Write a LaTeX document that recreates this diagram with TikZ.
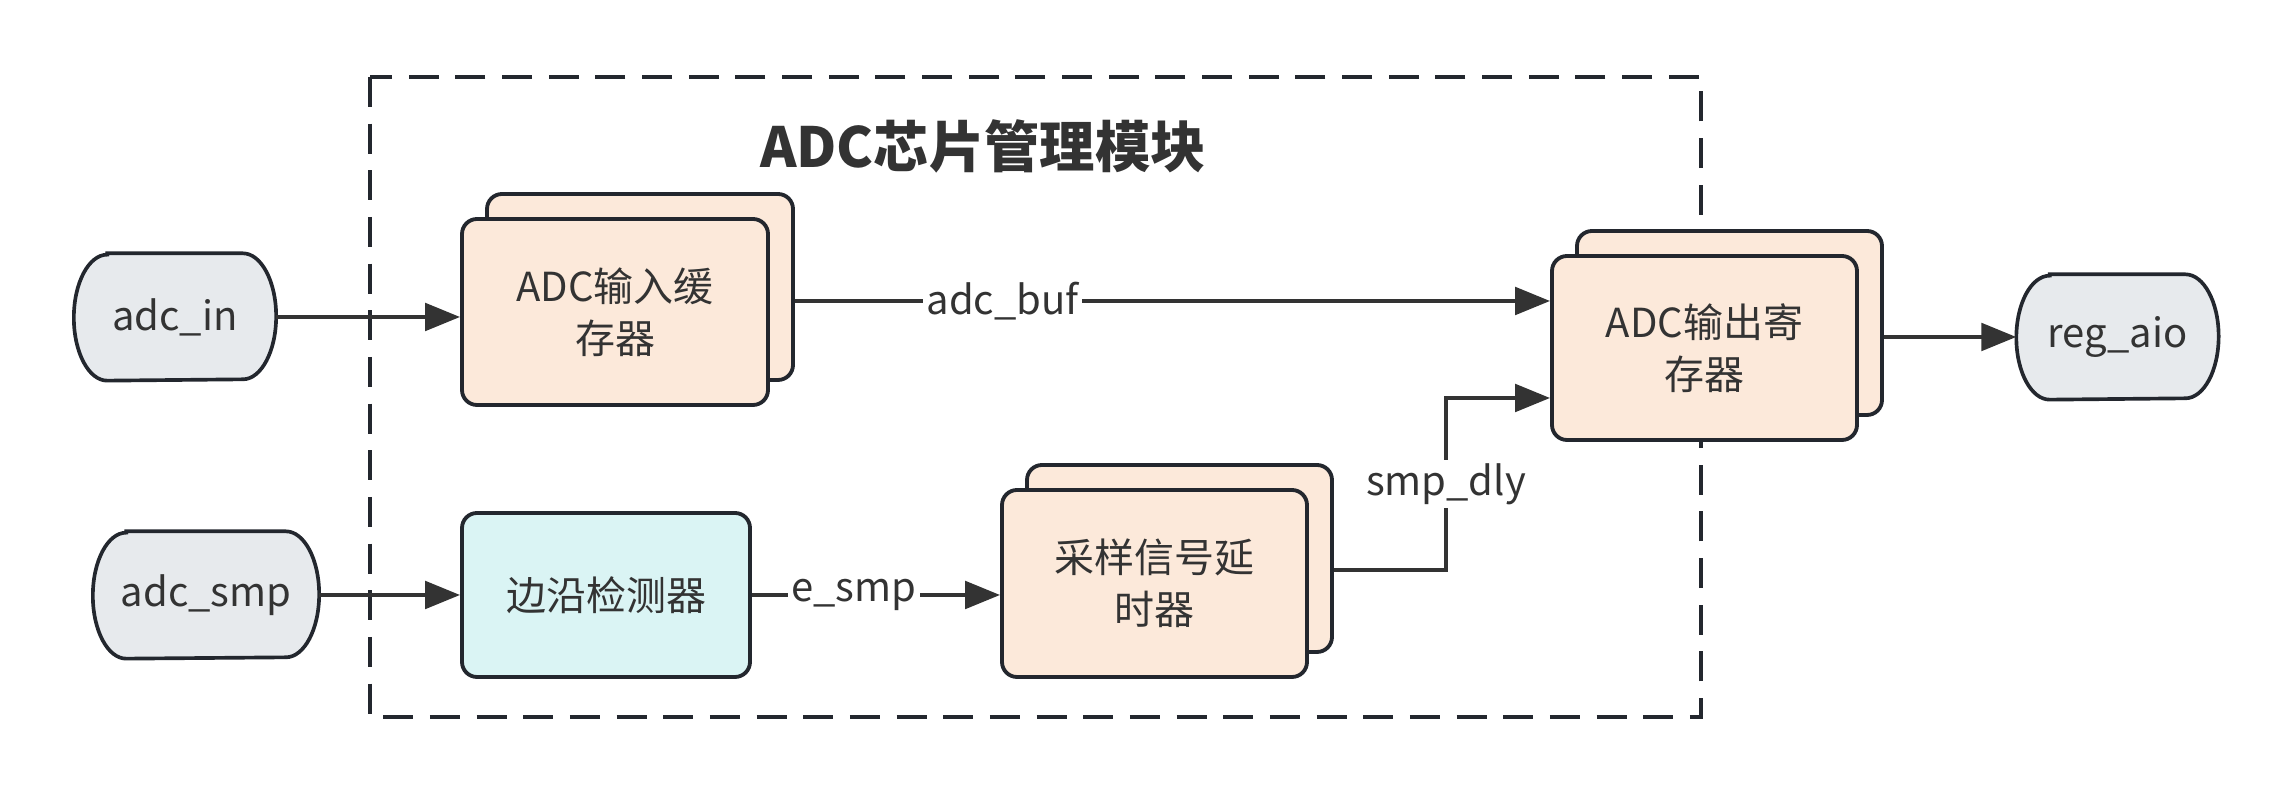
\documentclass[tikz,border=0pt]{standalone}
\usepackage{fontspec}
\setmainfont{Noto Sans CJK SC}
\usetikzlibrary{arrows.meta}
\definecolor{peach}{HTML}{FCE9DA}
\definecolor{cyanf}{HTML}{DAF4F4}
\definecolor{grayf}{HTML}{E7EAED}
\definecolor{bord}{HTML}{23272E}
\definecolor{arrc}{HTML}{333333}
\definecolor{txt}{HTML}{333333}
\begin{document}
\begin{tikzpicture}[x=0.3pt,y=-0.3pt,
  every node/.style={text=txt, font=\fontsize{12}{15.5}\selectfont},
  box/.style={draw=bord, line width=1.15pt, rounded corners=4.5pt, fill=peach, align=center, inner sep=0pt},
  stad/.style={inner sep=0pt},
  arr/.style={draw=arrc, line width=1.3pt, -{Triangle[length=10.5pt,width=8.2pt]}},
  lbl/.style={fill=white, inner sep=1pt}]
\useasboundingbox (0,0) rectangle (2293,792);
% group frame
\draw[bord, line width=1pt, dash pattern=on 9pt off 5pt] (370,77) rectangle (1701,717);
\node[font=\fontsize{16.6}{20}\selectfont\bfseries] (title) at (983,146) {ADC芯片管理模块};
% stadium terminals
\node[stad, minimum width=60.3pt, minimum height=37.8pt] (adcin) at (175,317) {};
\node[stad, minimum width=67.5pt, minimum height=37.8pt] (adcsmp) at (206,595) {};
\node[stad, minimum width=60.3pt, minimum height=37.2pt] (regaio) at (2117.5,337) {};
\foreach \n/\ry in {adcin/18.9pt, adcsmp/18.9pt, regaio/18.6pt}{
  \draw[draw=bord, fill=grayf, line width=1.1pt]
    ([xshift=10pt]\n.north west) -- ([xshift=-10pt]\n.north east)
    arc[start angle=90, end angle=-90, x radius=10pt, y radius=\ry]
    -- ([xshift=10pt]\n.south west)
    arc[start angle=270, end angle=90, x radius=10pt, y radius=\ry] -- cycle;
}
\node at (adcin) {adc\_in};
\node at (adcsmp) {adc\_smp};
\node at (regaio) {reg\_aio};
% stacked boxes
\node[box, minimum width=91.8pt, minimum height=55.8pt] (inbufB) at (640,287) {};
\node[box, minimum width=91.8pt, minimum height=55.8pt] (inbuf) at (615,312) {ADC输入缓\\存器};
\node[box, fill=cyanf, minimum width=86.4pt, minimum height=49.2pt] (edge) at (606,595) {边沿检测器};
\node[box, minimum width=91.5pt, minimum height=56.1pt] (delayB) at (1179.5,558.5) {};
\node[box, minimum width=91.5pt, minimum height=56.1pt] (delay) at (1154.5,583.5) {采样信号延\\时器};
\node[box, minimum width=91.5pt, minimum height=55.2pt] (outregB) at (1729.5,323) {};
\node[box, minimum width=91.5pt, minimum height=55.2pt] (outreg) at (1704.5,348) {ADC输出寄\\存器};
% connectors
\draw[arr] (adcin.east) -- (inbuf.west |- adcin.east);
\coordinate (bufin) at ([yshift=14.1pt]outreg.west);
\draw[arr] (inbufB.east |- bufin) -- node[lbl, pos=0.275] {adc\_buf} (bufin);
\draw[arr] (adcsmp.east) -- (edge.west |- adcsmp.east);
\draw[arr] (edge.east) -- node[lbl, pos=0.41] {e\_smp} (delay.west |- edge.east);
\coordinate (dlyin) at ([yshift=-15pt]outreg.west);
\coordinate (dlyout) at ([yshift=-3.45pt]delayB.east);
\coordinate (turn) at (1446,0);
\draw[arr] (dlyout) -- (turn |- dlyout) -- node[lbl, pos=0.5] {smp\_dly} (turn |- dlyin) -- (dlyin);
\draw[arr] (outregB.east |- regaio.west) -- (regaio.west);
\end{tikzpicture}
\end{document}
